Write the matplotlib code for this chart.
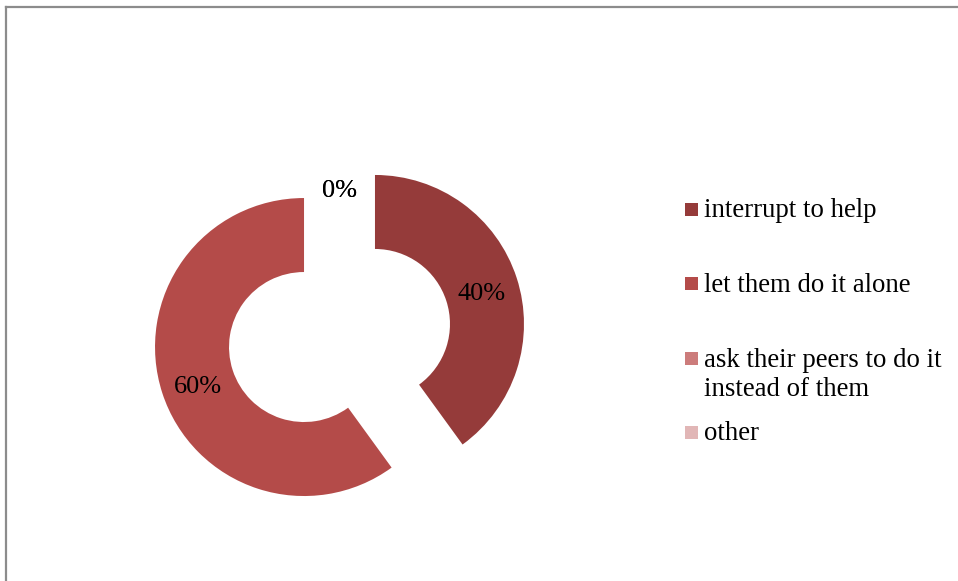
import matplotlib
matplotlib.use("Agg")
import matplotlib.pyplot as plt
from matplotlib.patches import Rectangle
from matplotlib.lines import Line2D

categories = ["interrupt to help", "let them do it alone",
              "ask their peers to do it\ninstead of them", "other"]
shares = [40, 60, 0, 0]
colors = ["#953B3A", "#B44B49", "#CC7C7B", "#E1B6B6"]

W, H = 958, 581
fig = plt.figure(figsize=(W / 100, H / 100), dpi=100)
ax = fig.add_axes([0, 0, 1, 1])

serif = "Liberation Serif"

# donut, pixel units with y pointing up
radius = 149
ring = 74
cx, cy = 339.5, H - 335.5
wedges, texts, autotexts = ax.pie(
    shares, colors=colors, startangle=90, counterclock=False,
    radius=radius, center=(cx, cy), explode=[37.3] * len(shares),
    wedgeprops=dict(width=ring, linewidth=0),
    autopct="%.0f%%", pctdistance=0.75,
    textprops=dict(family=serif, fontsize=19, color="black"))
# centre the digits rather than the full text box
for t in autotexts:
    t.set_y(t.get_position()[1] - 5)

ax.set_xlim(0, W)
ax.set_ylim(0, H)
ax.set_aspect("equal")
ax.axis("off")

# outer frame (top and left edges visible)
ax.add_line(Line2D([6.5, W + 5], [H - 6.5, H - 6.5], color="#8c8c8c", lw=1.6))
ax.add_line(Line2D([6.5, 6.5], [-5, H - 6.5], color="#8c8c8c", lw=1.6))

# legend on the right; baselines are for the last line of each label
box_tops = [203, 277, 352, 426]
baselines = [217, 292, 396, 440]
for lab, col, top, base in zip(categories, colors, box_tops, baselines):
    ax.add_patch(Rectangle((685, H - top - 13), 13, 13, color=col, lw=0))
    ax.text(704, H - base, lab, family=serif, fontsize=19.3,
            va="baseline", ha="left", linespacing=1.2)

fig.savefig("out.png", dpi=100)
